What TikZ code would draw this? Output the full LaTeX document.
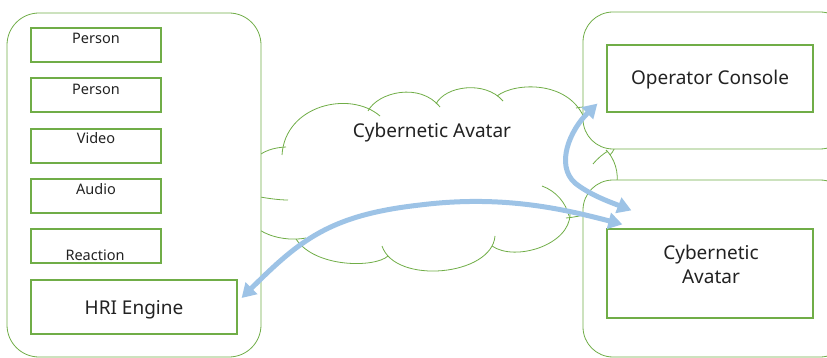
\documentclass[tikz,border=0pt]{standalone}
\usepackage{fontspec}
\setmainfont{Noto Sans}
\usetikzlibrary{arrows.meta,calc}
\definecolor{grn}{HTML}{70AD47}
\definecolor{arr}{HTML}{9DC3E6}
\definecolor{txt}{HTML}{222222}
\begin{document}
\begin{tikzpicture}[x=1pt,y=-1pt,
  outer/.style={draw=grn, line width=0.8pt, rounded corners=#1, fill=white, inner sep=0pt},
  outer/.default=30pt,
  item/.style={draw=grn, line width=1.2pt, fill=white, inner sep=0pt},
  cloudline/.style={draw=grn, line width=0.8pt},
  smalltxt/.style={text=txt, font=\fontsize{14.5}{16}\selectfont, inner sep=0pt},
  bigtxt/.style={text=txt, font=\fontsize{19}{24}\selectfont, inner sep=0pt, align=center},
  link/.style={draw=arr, line width=5pt,
    {Triangle[length=14pt,width=16pt]}-{Triangle[length=14pt,width=16pt]}}
]
\useasboundingbox (0,0) rectangle (827,358);
\clip (0,0) rectangle (827,358);
% ---- cloud outline (drawn first, partly covered by the panels)
\draw[cloudline] (282,155) .. controls (285,105) and (350,90) .. (380,116);
\draw[cloudline] (368,111) .. controls (378,92) and (420,82) .. (440,107);
\draw[cloudline] (436,104) .. controls (445,86) and (485,80) .. (503,101);
\draw[cloudline] (497,96) .. controls (515,82) and (570,80) .. (585,120);
\draw[cloudline] (576,108) .. controls (615,100) and (625,140) .. (610,155);
\draw[cloudline] (593,164) .. controls (598,158) and (603,154) .. (608,151);
\draw[cloudline] (606,150) .. controls (622,165) and (630,212) .. (566,218);
\draw[cloudline] (542,186) .. controls (556,191) and (566,203) .. (569,216);
\draw[cloudline] (570,214) .. controls (570,245) and (515,262) .. (492,246);
\draw[cloudline] (495,236) .. controls (492,276) and (395,285) .. (382,246);
\draw[cloudline] (388,256) .. controls (375,268) and (315,268) .. (296,239);
\draw[cloudline] (306,238) .. controls (285,242) and (250,236) .. (240,205);
\draw[cloudline] (255,196) .. controls (265,198) and (278,200) .. (288,200);
\draw[cloudline] (240,200) .. controls (242,160) and (262,148) .. (286,147);
\node[bigtxt] (cloudtxt) at (432,133) {Cybernetic Avatar};
% ---- panels
\node[outer=32pt, minimum width=254pt, minimum height=344pt] (leftpanel) at (134,185) {};
\node[outer, minimum width=267pt, minimum height=137pt] (optpanel) at (716.5,80.5) {};
\node[outer, minimum width=267pt, minimum height=177pt] (capanel) at (716.5,268.5) {};
% ---- items
\node[item, minimum width=130pt, minimum height=34pt] (p1) at (96,45) {};
\node[item, minimum width=130pt, minimum height=34pt] (p2) at (96,95) {};
\node[item, minimum width=130pt, minimum height=34pt] (video) at (96,146) {};
\node[item, minimum width=130pt, minimum height=34pt] (audio) at (96,196) {};
\node[item, minimum width=130pt, minimum height=34pt] (reaction) at (96,246) {};
\node[item, minimum width=206pt, minimum height=54pt] (hri) at (134,307) {};
\node[item, minimum width=206pt, minimum height=67pt] (opc) at (710,78.5) {};
\node[item, minimum width=206pt, minimum height=89pt] (ca) at (710,273.5) {};
% ---- labels
\node[smalltxt] (p1t) at (96,38) {Person};
\node[smalltxt] (p2t) at (96,89) {Person};
\node[smalltxt] (vt) at (96,138) {Video};
\node[smalltxt] (at) at (96,189) {Audio};
\node[smalltxt] (rt) at (95,255) {Reaction};
\node[bigtxt] (hrit) at (134,310) {HRI Engine};
\node[bigtxt] (opct) at (710,80) {Operator Console};
\node[bigtxt] (cat) at (711,264) {Cybernetic\\Avatar};
% ---- connectors
\coordinate (a1s) at ($(hri.east)+(4,-9)$);
\coordinate (a1e) at ($(ca.north west)+(16,-4)$);
\coordinate (a2s) at ($(opc.south west)+(-9,-9)$);
\coordinate (a2e) at ($(ca.north west)+(25,-18)$);
\draw[link] (a1s) .. controls (300,240) and (330,215) .. (420,205)
  .. controls (500,195) and (560,208) .. (a1e);
\draw[link] (a2s) .. controls (570,130) and (555,165) .. (575,183)
  .. controls (590,195) and (610,202) .. (a2e);
\end{tikzpicture}
\end{document}
